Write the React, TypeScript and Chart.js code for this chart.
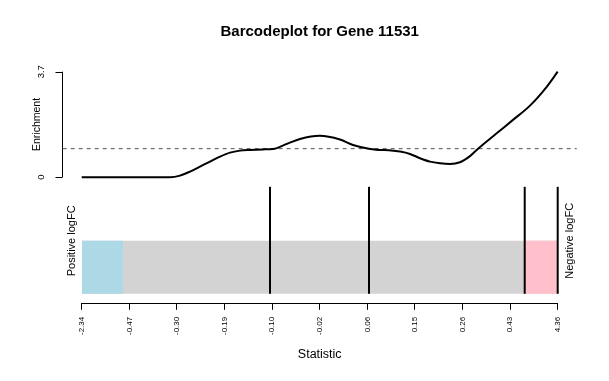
import React, { useEffect, useRef } from 'react';
import { Chart, registerables } from 'chart.js';

Chart.register(...registerables);

const FONT = '"Liberation Sans", Arial, Helvetica, sans-serif';

const titleText = 'Barcodeplot for Gene 11531';
const xAxisTitle = 'Statistic';
const yAxisTitle = 'Enrichment';
const leftLabel = 'Positive logFC';
const rightLabel = 'Negative logFC';

// x axis: fractional rank of the statistic, labelled with its quantiles
const xTickPositions = [0, 0.1, 0.2, 0.3, 0.4, 0.5, 0.6, 0.7, 0.8, 0.9, 1];
const xTickLabels = ['-2.34', '-0.47', '-0.30', '-0.19', '-0.10', '-0.02', '0.06', '0.15', '0.26', '0.43', '4.36'];
const yTickValues = [0, 3.7];
const yTickLabels = ['0', '3.7'];

// enrichment worm
const enrichX = [0, 0.1, 0.1855, 0.2065, 0.2275, 0.2485, 0.2695, 0.2906, 0.3116, 0.3326, 0.3536, 0.38, 0.4019, 0.431, 0.4586, 0.5, 0.5426, 0.57, 0.606, 0.654, 0.669, 0.6897, 0.7107, 0.7317, 0.7527, 0.7737, 0.7947, 0.8157, 0.8327, 0.8718, 0.9061, 0.9418, 0.9769, 1.0];
const enrichY = [0, 0, 0, 0.056, 0.196, 0.371, 0.546, 0.722, 0.862, 0.932, 0.956, 0.975, 0.99, 1.17, 1.34, 1.45, 1.32, 1.13, 0.99, 0.93, 0.9, 0.816, 0.666, 0.547, 0.49, 0.466, 0.526, 0.74, 1.0, 1.54, 2.01, 2.51, 3.17, 3.7];
const enrichBaseline = 1;

// barcode
const genePositions = [0.3956, 0.6036, 0.9307, 1.0];
const barcodeLineHeight = 2.02;
const barHeight = 1;
const positiveRegion = [0, 0.0868];
const negativeRegion = [0.9307, 1.0];
const fullRegion = [0, 1];
const xPad = 0.04;

const rPlugin = {
  id: 'rDecorations',
  afterDraw(chart: any) {
    const { ctx } = chart;
    const xs = chart.scales.x;
    const ys = chart.scales.y;
    const yb = chart.scales.yb;
    const axX = Math.round(xs.getPixelForValue(-xPad)) - 0.5;
    const yPix = yTickValues.map((v) => ys.getPixelForValue(v));
    ctx.save();
    ctx.strokeStyle = '#000';
    ctx.lineWidth = 1;
    ctx.beginPath();
    ctx.moveTo(axX, Math.min(...yPix));
    ctx.lineTo(axX, Math.max(...yPix));
    yPix.forEach((p) => {
      const py = Math.round(p) + 0.5;
      ctx.moveTo(axX, py);
      ctx.lineTo(axX - 7, py);
    });
    ctx.stroke();

    const rotText = (text: string, x: number, y: number, font: string) => {
      ctx.save();
      ctx.translate(x, y);
      ctx.rotate(-Math.PI / 2);
      ctx.font = font;
      ctx.fillStyle = '#000';
      ctx.textAlign = 'center';
      ctx.textBaseline = 'middle';
      ctx.fillText(text, 0, 0);
      ctx.restore();
    };
    yPix.forEach((p, i) => rotText(yTickLabels[i], axX - 21.5, p, `9.5px ${FONT}`));
    const midY = (yPix[0] + yPix[yPix.length - 1]) / 2;
    rotText(yAxisTitle, axX - 25.5, midY, `10.5px ${FONT}`);
    const labY = yb.getPixelForValue(barHeight);
    rotText(leftLabel, xs.getPixelForValue(0) - 9.5, labY, `11px ${FONT}`);
    rotText(rightLabel, xs.getPixelForValue(1) + 12.5, labY, `11px ${FONT}`);
    ctx.restore();
  },
};

export default function App() {
  const ref = useRef<HTMLCanvasElement>(null);
  useEffect(() => {
    if (!ref.current) return;
    const rect = (r: number[], color: string, order: number) => ({
      type: 'line' as const,
      data: [{ x: r[0], y: barHeight }, { x: r[1], y: barHeight }],
      xAxisID: 'x',
      yAxisID: 'yb',
      borderWidth: 0,
      borderColor: 'rgba(0,0,0,0)',
      backgroundColor: color,
      fill: 'origin',
      pointRadius: 0,
      order,
    });
    const datasets: any[] = [
      rect(fullRegion, '#D3D3D3', 10),
      rect(positiveRegion, '#ADD8E6', 9),
      rect(negativeRegion, '#FFC0CB', 9),
      ...genePositions.map((p) => ({
        type: 'line',
        data: [{ x: p, y: 0 }, { x: p, y: barcodeLineHeight }],
        xAxisID: 'x',
        yAxisID: 'yb',
        borderColor: '#000',
        borderWidth: 2,
        pointRadius: 0,
        fill: false,
        clip: false,
        order: 5,
      })),
      {
        type: 'line',
        data: [{ x: -xPad, y: enrichBaseline }, { x: 1 + xPad, y: enrichBaseline }],
        xAxisID: 'x',
        yAxisID: 'y',
        borderColor: '#555',
        borderWidth: 1,
        borderDash: [4, 4],
        pointRadius: 0,
        fill: false,
        clip: false,
        order: 3,
      },
      {
        type: 'line',
        data: enrichX.map((x, i) => ({ x, y: enrichY[i] })),
        xAxisID: 'x',
        yAxisID: 'y',
        borderColor: '#000',
        borderWidth: 2,
        pointRadius: 0,
        fill: false,
        cubicInterpolationMode: 'monotone',
        clip: false,
        order: 1,
      },
    ];
    const chart = new Chart(ref.current, {
      type: 'line',
      data: { datasets },
      options: {
        animation: false,
        responsive: true,
        maintainAspectRatio: false,
        events: [],
        layout: { padding: { top: 0, left: 81.7, right: 51.3, bottom: 10 } },
        plugins: {
          legend: { display: false },
          tooltip: { enabled: false },
          title: {
            display: true,
            text: titleText,
            fullSize: false,
            color: '#000',
            font: { family: FONT, size: 15, weight: 'bold' },
            padding: { top: 22.5, bottom: 31.2 },
          },
        },
        scales: {
          x: {
            type: 'linear',
            min: 0,
            max: 1,
            offset: false,
            afterBuildTicks: (s: any) => {
              s.ticks = xTickPositions.map((v) => ({ value: v }));
            },
            grid: { display: true, drawOnChartArea: false, drawTicks: true, tickLength: 6, color: '#000', lineWidth: 1 },
            border: { display: true, color: '#000', width: 1 },
            ticks: {
              autoSkip: false,
              minRotation: 90,
              maxRotation: 90,
              padding: 7,
              color: '#000',
              font: { family: FONT, size: 8 },
              callback: (_v: any, i: number) => xTickLabels[i],
            },
            title: {
              display: true,
              text: xAxisTitle,
              color: '#000',
              font: { family: FONT, size: 12.5 },
              padding: { top: 5, bottom: 9 },
            },
          },
          y: {
            type: 'linear',
            display: false,
            min: -4.4393,
            max: 3.7,
          },
          yb: {
            type: 'linear',
            display: false,
            min: -0.1887,
            max: 4.1943,
          },
        },
      },
      plugins: [rPlugin],
    } as any);
    return () => chart.destroy();
  }, []);
  return (
    <div style={{ position: 'fixed', left: 0, top: 0, width: 609, height: 381, background: '#fff' }}>
      <canvas ref={ref} />
    </div>
  );
}
